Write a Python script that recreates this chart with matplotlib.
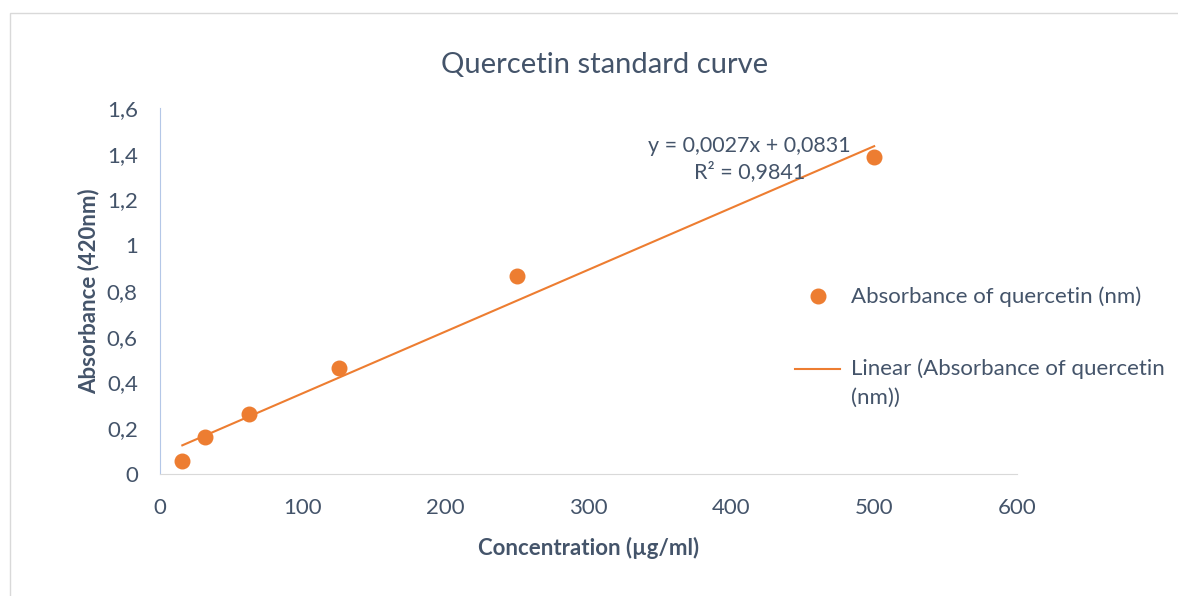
import matplotlib.pyplot as plt
from matplotlib.ticker import FuncFormatter
from matplotlib.lines import Line2D
from matplotlib.patches import Rectangle

# quercetin standards: concentration (ug/ml) vs absorbance at 420 nm
concentration = [15.625, 31.25, 62.5, 125, 250, 500]
absorbance = [0.057, 0.162, 0.262, 0.463, 0.866, 1.386]

# trendline as reported on the chart
slope = 0.0027
intercept = 0.0831
r_squared = 0.9841

x_ticks = [0, 100, 200, 300, 400, 500, 600]
y_ticks = [0, 0.2, 0.4, 0.6, 0.8, 1.0, 1.2, 1.4, 1.6]

orange = "#ED7D31"
text_col = "#44546A"
W, H = 1178, 596

plt.rcParams['font.family'] = ['Lato', 'DejaVu Sans']

fig = plt.figure(figsize=(W / 100, H / 100), dpi=100)

def px(x, y):
    # pixel position from top-left to figure fraction
    return x / W, 1 - y / H

# chart area border
fig.add_artist(Rectangle(px(10, 700), 1.2, (700 - 13) / H, transform=fig.transFigure,
                         fill=False, edgecolor="#D9D9D9", linewidth=1))

ax = fig.add_axes([160 / W, 122 / H, (1017 - 160) / W, (474 - 108) / H])

ax.scatter(concentration, absorbance, s=110, color=orange, zorder=3)

line_x = [min(concentration), max(concentration)]
line_y = [slope * v + intercept for v in line_x]
ax.plot(line_x, line_y, color=orange, linewidth=1.5, zorder=2)

ax.set_xlim(0, 600)
ax.set_ylim(0, 1.6)
ax.set_xticks(x_ticks)
ax.set_yticks(y_ticks)
comma = FuncFormatter(lambda v, p: ("%g" % v).replace(".", ","))
ax.xaxis.set_major_formatter(comma)
ax.yaxis.set_major_formatter(comma)
ax.tick_params(length=0, labelsize=16, colors=text_col)
ax.tick_params(axis='x', pad=17)
ax.tick_params(axis='y', pad=16)

for s in ["top", "right"]:
    ax.spines[s].set_visible(False)
ax.spines["left"].set_color("#B4C7E7")
ax.spines["bottom"].set_color("#D9D9D9")

ax.set_xlabel("Concentration (µg/ml)", fontsize=16, fontweight="bold", color=text_col, labelpad=14)
ax.set_ylabel("Absorbance (420nm)", fontsize=16, fontweight="bold", color=text_col, labelpad=5)

fig.text(*px(605, 65), "Quercetin standard curve", fontsize=21, color=text_col,
         ha="center", va="center")

eq = "y = " + ("%.4f" % slope).replace(".", ",") + "x + " + ("%.4f" % intercept).replace(".", ",")
r2 = "R² = " + ("%.4f" % r_squared).replace(".", ",")
fig.text(*px(749, 146), eq, fontsize=15.5, color=text_col, ha="center", va="center")
fig.text(*px(750, 172), r2, fontsize=15.5, color=text_col, ha="center", va="center")

# legend drawn by hand to match the layout
fig.add_artist(Line2D([px(818, 0)[0]], [px(0, 296)[1]], marker="o", markersize=10.5,
                      color=orange, linestyle="none", transform=fig.transFigure))
fig.text(*px(851, 297), "Absorbance of quercetin (nm)", fontsize=16, color=text_col, va="center")
fig.add_artist(Line2D([px(795, 0)[0], px(840, 0)[0]], [px(0, 369)[1]] * 2,
                      color=orange, linewidth=1.5, transform=fig.transFigure))
fig.text(*px(851, 369), "Linear (Absorbance of quercetin", fontsize=16, color=text_col, va="center")
fig.text(*px(851, 398), "(nm))", fontsize=16, color=text_col, va="center")

fig.savefig("out.png", dpi=100)
